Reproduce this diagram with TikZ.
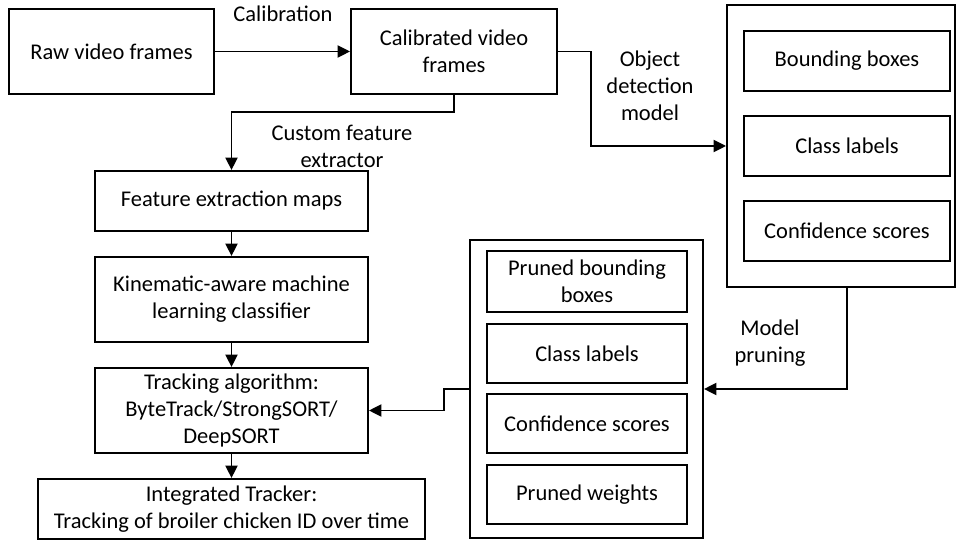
\documentclass[tikz,border=0pt]{standalone}
\usepackage{fontspec}
\setmainfont{Carlito}
\usepackage{tikz}
\usetikzlibrary{arrows.meta}

\tikzset{
  box/.style={draw, line width=1.1pt, align=center, inner sep=0pt},
  flow/.style={line width=1.1pt, -{Triangle[length=0.25cm, width=0.24cm]}},
  lbl/.style={align=center, inner sep=0pt}
}

\begin{document}
\begin{tikzpicture}[x=0.02cm, y=-0.02cm, font=\fontsize{12.8}{15.3}\selectfont]
    \useasboundingbox (0,0) rectangle (956,543);
        % left column
        \node[box, minimum width=4.1cm, minimum height=1.7cm] (raw) at (111.5,51.5) {Raw video frames};
        \node[box, minimum width=4.12cm, minimum height=1.7cm] (cal) at (454,51.5) {Calibrated video\\frames};
        \node[box, minimum width=5.46cm, minimum height=1.2cm] (feat) at (231.5,201) {Feature extraction maps};
        \node[box, minimum width=5.46cm, minimum height=1.7cm] (kin) at (231.5,299.5) {Kinematic-aware machine\\learning classifier};
        \node[box, minimum width=5.46cm, minimum height=1.7cm] (track) at (231.5,410.5) {Tracking algorithm:\\ByteTrack/StrongSORT/\\DeepSORT};
        \node[box, minimum width=7.74cm, minimum height=1.2cm] (integ) at (231.5,509) {Integrated Tracker:\\Tracking of broiler chicken ID over time};

        % detection outputs
        \node[box, minimum width=4.56cm, minimum height=5.64cm] (det) at (841,146) {};
        \node[box, minimum width=4.12cm, minimum height=1.2cm] (bbox) at (847,61) {Bounding boxes};
        \node[box, minimum width=4.12cm, minimum height=1.2cm] (cls) at (847,146) {Class labels};
        \node[box, minimum width=4.12cm, minimum height=1.2cm] (conf) at (847,231) {Confidence scores};

        % pruned outputs
        \node[box, minimum width=4.66cm, minimum height=5.96cm] (prune) at (586.5,389) {};
        \node[box, minimum width=4cm, minimum height=1.22cm] (pbox) at (587,281.5) {Pruned bounding\\boxes};
        \node[box, minimum width=4cm, minimum height=1.18cm] (pcls) at (587,353.5) {Class labels};
        \node[box, minimum width=4cm, minimum height=1.18cm] (pconf) at (587,423.5) {Confidence scores};
        \node[box, minimum width=4cm, minimum height=1.18cm] (pw) at (587,494.5) {Pruned weights};

        % edge labels
        \node[lbl] (lblcal) at (283,14) {Calibration};
        \node[lbl] (lblfeat) at (342,146) {Custom feature\\extractor};
        \node[lbl] (lbldet) at (650,86) {Object\\detection\\model};
        \node[lbl] (lblprune) at (770,343) {Model\\pruning};

        % connectors
        \draw[flow] (raw.east) -- (cal.west);
        \draw[flow] (cal.south) -- ++(0,17) -| (feat.north);
        \draw[flow] (cal.east) -- ++(33,0) |- (det.west);
        \draw[flow] (bbox.center |- det.south) |- (prune.east);
        \draw[flow] (prune.west) -- ++(-25,0) |- (track.east);
        \draw[flow] (feat.south) -- (kin.north);
        \draw[flow] (kin.south) -- (track.north);
        \draw[flow] (track.south) -- (integ.north);
\end{tikzpicture}
\end{document}
